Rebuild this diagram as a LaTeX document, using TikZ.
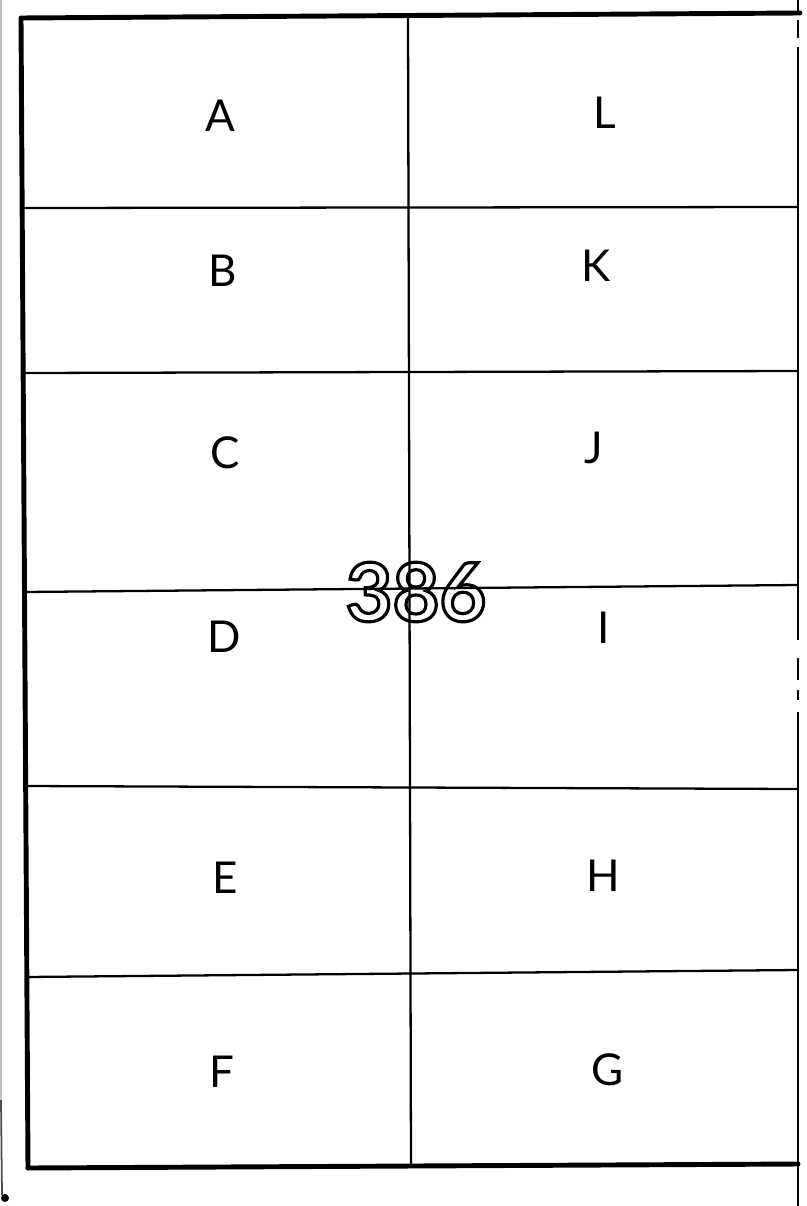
\documentclass[tikz,border=0pt]{standalone}
\usepackage{fontspec}
\setmainfont{Lato}
\newcommand\strokedtext[1]{\special{pdf:literal direct 1 Tr 1.8 w}#1\special{pdf:literal direct 0 Tr}}
\begin{document}
\begin{tikzpicture}[x=0.02cm,y=-0.02cm,
  lbl/.style={font=\fontsize{25}{25}\selectfont, inner sep=0pt},
  digits/.style={font=\fontsize{46}{46}\selectfont\bfseries, inner sep=0pt},
  outer/.style={line width=2.8pt, line cap=round, line join=round},
  divider/.style={line width=1.3pt},
  edge/.style={line width=1.6pt}]
\useasboundingbox (0,0) rectangle (806,1206);
% corner coordinates
\coordinate (TL) at (21,18);
\coordinate (TR) at (800,13);
\coordinate (BL) at (28,1168);
\coordinate (BR) at (798,1164);
\coordinate (MT) at (408,18);
\coordinate (MB) at (411,1166);
% grid
\draw[outer] (TR) -- (TL) -- (BL);
\draw[outer] (BL) -- (BR);
\draw[divider] (MT) -- (MB);
\coordinate (l1) at (22,208); \coordinate (r1) at (798,207);
\coordinate (l2) at (23,373); \coordinate (r2) at (798,371);
\coordinate (l3) at (24,592); \coordinate (r3) at (798,585);
\coordinate (l4) at (25,786); \coordinate (r4) at (798,789);
\coordinate (l5) at (26,977); \coordinate (r5) at (798,970);
\foreach \i in {1,...,5} \draw[divider] (l\i) -- (r\i);
% right edge (broken line)
\foreach \s/\e in {0/13, 20/38, 47/640, 658/680, 690/700, 712/1206}
  \draw[edge] (798,\s) -- (798,\e);
% faint scan edge at far left
\draw[black!25, line width=0.8pt] (1,0) -- (1,1100);
\draw[black!70, line width=1pt] (1,1100) -- (2,1195);
\fill (5,1198) circle (4);
% outlined lot number
\node[digits] (n386) at (416,592) {\strokedtext{386}};
% labels
\node[lbl] (A) at (220,116) {A};
\node[lbl] (L) at (605,113) {L};
\node[lbl] (B) at (223,271) {B};
\node[lbl] (K) at (596,266) {K};
\node[lbl] (C) at (225,453) {C};
\node[lbl] (J) at (594,448) {J};
\node[lbl] (D) at (224,637) {D};
\node[lbl] (I) at (604,628) {I};
\node[lbl] (E) at (225,878) {E};
\node[lbl] (H) at (603,876) {H};
\node[lbl] (F) at (222,1072) {F};
\node[lbl] (G) at (608,1070) {G};
\end{tikzpicture}
\end{document}
